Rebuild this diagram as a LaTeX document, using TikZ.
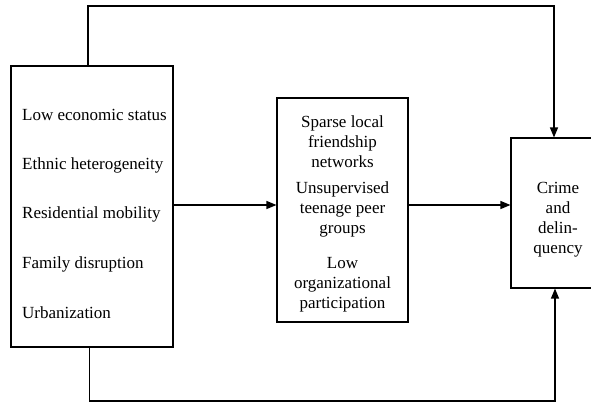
\documentclass[tikz,border=0pt]{standalone}
\usepackage{fontspec}
\setmainfont{Liberation Serif}
\usetikzlibrary{arrows.meta}
\tikzset{
  boxshape/.style={draw, line width=1.1pt, inner sep=0pt, rectangle},
  txt/.style={font=\fontsize{17}{20}\selectfont, inner sep=0pt, align=center},
  ltxt/.style={font=\fontsize{17}{20}\selectfont, inner sep=0pt, anchor=base west},
  conn/.style={line width=1.2pt, -{Triangle[length=10pt,width=8pt]}},
}
\begin{document}
\begin{tikzpicture}[x=1pt,y=-1pt]
\useasboundingbox (0,0) rectangle (591,405);
% boxes
\node[boxshape, minimum width=162pt, minimum height=281pt] (lbox) at (92,206.5) {};
\node[boxshape, minimum width=131pt, minimum height=224pt] (mbox) at (342.5,210) {};
\node[boxshape, minimum width=96pt, minimum height=150pt] (rbox) at (559,213) {};
% left texts
\node[ltxt] (l1) at (22,120) {Low economic status};
\node[ltxt] (l2) at (22,169) {Ethnic heterogeneity};
\node[ltxt] (l3) at (22,218) {Residential mobility};
\node[ltxt] (l4) at (22,268) {Family disruption};
\node[ltxt] (l5) at (22,318) {Urbanization};
% middle texts (base anchor = last line)
\node[txt, anchor=base] (m1) at (342.5,167) {Sparse local\\friendship\\networks};
\node[txt, anchor=base] (m2) at (342.5,233) {Unsupervised\\teenage peer\\groups};
\node[txt, anchor=base] (m3) at (342.5,308) {Low\\organizational\\participation};
% right text
\node[txt, anchor=base] (r1) at (558,253) {Crime\\and\\delin-\\quency};
% helper coordinates
\coordinate (ta) at (88,6);
\coordinate (tb) at (554,6);
\coordinate (ba) at (89.5,401);
\coordinate (bb) at (555,401);
\coordinate (my) at (0,205);
% connectors
\draw[conn] (lbox.east |- my) -- (mbox.west |- my);
\draw[conn] (mbox.east |- my) -- (rbox.west |- my);
\draw[conn] (lbox.north -| ta) -- (ta) -- (tb) -- (rbox.north -| tb);
\draw[conn] (lbox.south -| ba) -- (ba) -- (bb) -- (rbox.south -| bb);
\end{tikzpicture}
\end{document}
